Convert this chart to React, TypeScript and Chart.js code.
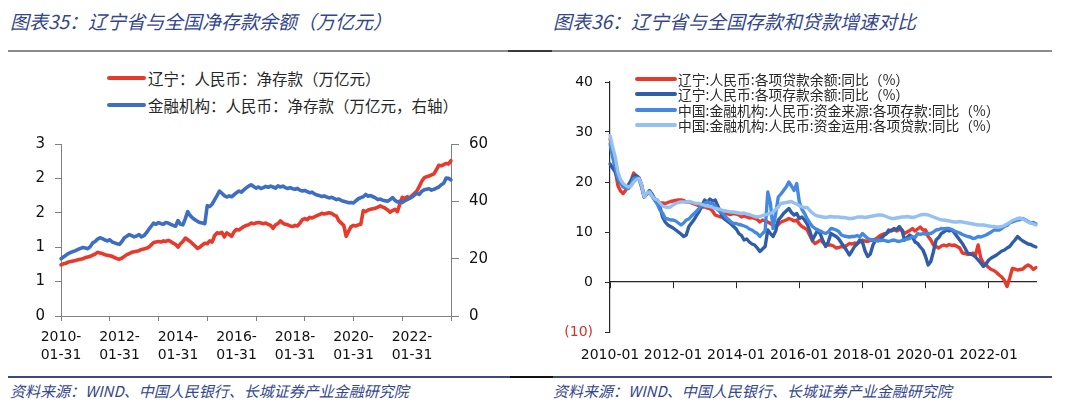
import React, { useEffect, useRef } from 'react';
import { Chart, registerables } from 'chart.js';

Chart.register(...registerables);

// ---------- Left chart data (monthly, 2010-01 .. 2023-05) ----------
const leftTickLabels = ['2010-01-31', '2012-01-31', '2014-01-31', '2016-01-31', '2018-01-31', '2020-01-31', '2022-01-31'];

// 辽宁：人民币：净存款（万亿元）
const lnNetDeposit = [
  0.89, 0.91, 0.92, 0.94, 0.95, 0.96, 0.97, 0.98, 0.99, 1.00, 1.02, 1.03,
  1.04, 1.06, 1.08, 1.11, 1.10, 1.09, 1.07, 1.06, 1.05, 1.04, 1.02, 1.00,
  0.99, 1.01, 1.04, 1.07, 1.09, 1.11, 1.12, 1.13, 1.14, 1.16, 1.17, 1.18,
  1.20, 1.24, 1.28, 1.29, 1.30, 1.29, 1.31, 1.30, 1.32, 1.30, 1.27, 1.25,
  1.20, 1.26, 1.30, 1.36, 1.33, 1.30, 1.26, 1.22, 1.18, 1.20, 1.24, 1.27,
  1.26, 1.31, 1.29, 1.40, 1.45, 1.44, 1.46, 1.38, 1.45, 1.42, 1.39, 1.47,
  1.51, 1.50, 1.53, 1.56, 1.58, 1.59, 1.62, 1.61, 1.62, 1.63, 1.62, 1.61,
  1.62, 1.60, 1.58, 1.53, 1.59, 1.61, 1.66, 1.62, 1.60, 1.59, 1.57, 1.56,
  1.58, 1.57, 1.62, 1.68, 1.70, 1.68, 1.72, 1.71, 1.73, 1.75, 1.77, 1.79,
  1.78, 1.79, 1.80, 1.79, 1.76, 1.74, 1.66, 1.62, 1.58, 1.39, 1.48, 1.56,
  1.58, 1.57, 1.59, 1.60, 1.84, 1.82, 1.85, 1.86, 1.87, 1.88, 1.90, 1.92,
  1.90, 1.88, 1.85, 1.81, 1.84, 1.86, 1.82, 1.95, 2.07, 2.05, 2.08, 2.06,
  2.10, 2.14, 2.18, 2.26, 2.35, 2.41, 2.43, 2.44, 2.46, 2.48, 2.55, 2.63,
  2.62, 2.64, 2.66, 2.65, 2.71,
];

// 金融机构：人民币：净存款（万亿元，右轴）
const cnNetDeposit = [
  20.0, 20.6, 21.2, 21.8, 22.2, 22.5, 22.8, 23.2, 23.6, 23.9, 23.7, 23.5,
  24.2, 25.5, 26.0, 26.8, 27.3, 27.0, 26.5, 26.2, 26.6, 25.8, 25.5, 25.2,
  25.0, 26.0, 27.3, 27.8, 28.4, 28.0, 27.6, 27.9, 28.4, 27.6, 28.0, 29.0,
  30.2, 31.3, 32.4, 32.0, 32.6, 32.2, 32.0, 32.6, 32.4, 32.0, 31.6, 31.3,
  33.3, 32.0, 31.8, 34.0, 36.4, 35.0, 34.2, 33.6, 33.0, 32.6, 32.4, 32.2,
  38.5, 38.2, 39.0, 40.5, 42.0, 43.6, 42.8, 42.0, 41.5, 41.9, 41.6, 42.3,
  43.0, 43.6, 43.2, 44.0, 44.7, 45.3, 45.8, 45.2, 44.6, 45.0, 44.5, 44.8,
  45.2, 44.9, 45.3, 45.0, 44.6, 45.4, 45.0, 45.3, 44.8, 44.5, 44.8, 44.4,
  44.2, 44.5, 43.9, 43.6, 43.8, 43.4, 43.0, 43.2, 42.6, 42.2, 42.0, 41.7,
  41.9, 41.5, 41.2, 41.4, 41.0, 40.6, 40.8, 40.3, 40.0, 39.8, 39.5, 39.6,
  39.4, 40.2, 40.9, 41.3, 41.6, 42.4, 41.8, 42.0, 41.6, 41.2, 40.6, 40.8,
  40.4, 40.2, 40.0, 40.6, 41.3, 40.4, 39.8, 40.0, 39.6, 40.2, 40.6, 41.0,
  41.5, 42.2, 42.8, 42.4, 43.5, 44.0, 44.2, 44.4, 43.9, 44.2, 44.6, 45.0,
  45.8, 46.3, 48.1, 48.0, 47.5,
];

// ---------- Right chart data (monthly, 2010-01 .. 2023-07) ----------
const rightTickLabels = ['2010-01', '2012-01', '2014-01', '2016-01', '2018-01', '2020-01', '2022-01'];

// 辽宁:人民币:各项贷款余额:同比（%）
const lnLoanYoY = [
  28.6, 26.0, 22.3, 19.3, 18.2, 17.7, 18.4, 19.3, 20.3, 21.8, 21.2, 20.7,
  19.0, 17.0, 17.6, 18.0, 17.2, 16.4, 16.0, 15.8, 15.8, 15.7, 15.9, 16.1,
  16.2, 16.3, 16.4, 16.4, 16.3, 16.0, 16.0, 15.8, 15.6, 15.4, 15.2, 15.0,
  15.0, 14.8, 14.7, 14.2, 13.4, 13.2, 13.0, 13.4, 13.7, 13.6, 13.5, 13.7,
  13.6, 13.4, 13.0, 13.2, 13.0, 12.8, 12.9, 12.7, 12.5, 12.0, 12.4, 12.2,
  12.0, 11.7, 11.4, 11.2, 11.5, 12.0, 12.2, 12.4, 12.7, 12.5, 12.2, 12.4,
  11.6, 11.1, 10.8, 10.4, 9.3, 8.2, 7.7, 8.0, 8.4, 7.9, 7.4, 7.4,
  7.4, 7.2, 6.8, 6.9, 7.1, 7.0, 7.3, 7.7, 7.6, 7.8, 7.7, 8.0,
  8.4, 8.2, 8.1, 8.3, 8.4, 8.6, 9.0, 9.4, 9.6, 9.7, 10.0, 10.4,
  10.4, 10.2, 10.5, 10.4, 9.7, 10.0, 10.3, 10.7, 10.2, 10.6, 11.0, 10.4,
  10.4, 9.1, 8.4, 7.4, 7.1, 6.8, 7.2, 7.4, 7.2, 7.5, 7.3, 7.4,
  7.1, 6.8, 5.8, 5.7, 5.5, 5.6, 5.8, 5.4, 7.4, 4.8, 3.8, 3.4,
  2.9, 2.5, 2.3, 1.9, 1.4, 1.0, 0.3, -0.9, 0.8, 2.7, 2.6, 2.4,
  2.5, 2.6, 3.1, 3.4, 3.1, 2.5, 2.9,
];

// 辽宁:人民币:各项存款余额:同比（%）
const lnDepositYoY = [
  23.6, 22.8, 22.0, 20.5, 19.8, 19.3, 19.2, 19.4, 20.2, 21.2, 21.3, 20.9,
  19.5, 17.0, 17.6, 18.3, 17.6, 16.6, 16.4, 15.0, 13.0, 12.0, 11.4, 11.1,
  10.8, 10.4, 10.0, 9.6, 9.1, 9.4, 11.1, 11.8, 12.5, 13.4, 14.2, 15.3,
  16.4, 16.0, 16.6, 16.2, 16.4, 15.2, 14.0, 12.8, 12.4, 12.0, 11.6, 11.1,
  10.6, 9.7, 9.3, 8.4, 8.6, 8.0, 7.6, 7.4, 6.8, 6.1, 6.6, 7.1,
  10.4, 9.7, 9.1, 10.2, 12.4, 13.0, 13.7, 14.2, 14.7, 13.9, 13.4, 13.7,
  12.7, 13.0, 12.4, 11.6, 10.2, 8.4, 9.4, 10.4, 9.6, 8.2, 7.1, 8.0,
  9.7, 9.4, 9.1, 8.6, 7.8, 7.1, 6.3, 5.4, 6.2, 7.1, 7.6, 8.4,
  8.0, 6.2, 5.1, 5.6, 7.4, 8.4, 8.2, 8.7, 9.2, 9.6, 10.4, 10.2,
  10.7, 10.5, 11.1, 10.4, 8.4, 8.9, 9.4, 9.0, 8.0, 7.7, 7.0, 6.4,
  5.1, 3.4, 4.1, 6.1, 8.4, 8.9, 9.7, 10.0, 10.4, 10.2, 10.4, 9.8,
  9.1, 8.4, 7.7, 6.8, 5.8, 5.6, 5.4, 5.0, 4.4, 3.8, 3.1, 3.6,
  4.4, 4.8, 5.1, 5.4, 5.8, 6.2, 6.4, 6.8, 7.1, 7.8, 8.4, 9.1,
  8.6, 8.2, 7.9, 7.6, 7.5, 7.2, 7.0,
];

// 中国:金融机构:人民币:资金来源:各项存款:同比（%）
const cnDepositYoY = [
  27.6, 25.0, 23.0, 20.7, 19.8, 19.0, 18.8, 18.7, 19.5, 20.7, 20.8, 20.7,
  19.3, 17.0, 17.6, 18.0, 17.2, 16.4, 15.6, 14.4, 13.8, 12.7, 12.6, 12.4,
  12.4, 12.2, 11.8, 11.4, 11.8, 12.4, 12.6, 13.2, 13.7, 14.2, 14.8, 15.4,
  15.7, 16.0, 15.7, 15.7, 15.2, 14.4, 14.0, 13.6, 13.0, 12.5, 12.0, 11.7,
  11.7, 11.5, 11.4, 11.2, 11.0, 10.6, 10.4, 10.0, 9.7, 9.1, 9.7, 10.2,
  18.0, 15.7, 10.7, 13.6, 17.0, 17.6, 18.3, 19.0, 20.0, 19.2, 18.3, 19.7,
  16.0, 14.5, 13.7, 12.6, 11.8, 11.1, 10.7, 10.4, 10.2, 9.9, 9.7, 10.0,
  10.7, 10.6, 10.4, 10.1, 9.4, 9.2, 9.1, 9.0, 9.1, 9.1, 9.3, 9.0,
  9.7, 9.2, 8.7, 8.5, 8.4, 8.3, 8.4, 8.3, 8.4, 8.2, 8.1, 8.3,
  8.4, 8.2, 8.1, 8.3, 8.4, 8.6, 8.7, 9.1, 8.9, 9.7, 9.5, 9.7,
  9.6, 9.7, 9.7, 10.0, 10.4, 10.5, 10.7, 10.6, 10.7, 10.7, 10.5, 10.2,
  10.0, 9.8, 9.5, 9.3, 9.1, 9.0, 8.7, 8.8, 9.1, 9.0, 9.2, 9.4,
  9.7, 10.0, 10.4, 10.4, 10.4, 10.7, 11.1, 11.3, 11.8, 12.0, 12.2, 12.4,
  12.5, 12.7, 12.4, 12.1, 11.8, 11.9, 11.6,
];

// 中国:金融机构:人民币:资金运用:各项贷款:同比（%）
const cnLoanYoY = [
  29.3, 27.0, 25.0, 22.0, 20.5, 19.7, 19.3, 19.0, 19.2, 20.0, 20.5, 20.7,
  19.5, 17.0, 17.8, 18.0, 17.2, 16.6, 16.4, 15.8, 15.2, 15.0, 14.9, 15.0,
  15.4, 15.7, 15.9, 16.0, 16.0, 16.0, 16.1, 16.0, 15.8, 15.7, 15.7, 15.5,
  15.3, 15.2, 15.1, 14.9, 14.7, 14.6, 14.5, 14.3, 14.2, 14.1, 14.0, 14.0,
  13.9, 13.8, 13.7, 13.8, 13.6, 13.5, 13.3, 13.1, 13.0, 13.1, 13.3, 13.4,
  13.6, 13.7, 14.0, 14.5, 15.0, 15.7, 15.8, 15.9, 16.0, 16.1, 15.8, 15.6,
  15.3, 15.0, 14.9, 14.9, 14.3, 13.8, 13.4, 13.2, 13.1, 13.0, 12.9, 13.0,
  13.1, 13.0, 13.0, 13.0, 12.9, 12.9, 12.8, 12.7, 12.7, 12.8, 13.0, 13.0,
  13.0, 12.9, 13.0, 13.1, 13.2, 13.3, 13.4, 13.4, 13.3, 13.1, 12.9, 12.7,
  12.7, 12.8, 12.9, 13.0, 13.0, 13.1, 13.0, 12.9, 13.0, 13.2, 13.4, 13.5,
  13.5, 13.4, 13.2, 13.0, 12.8, 12.6, 12.4, 12.4, 12.3, 12.2, 12.1, 12.0,
  12.0, 12.1, 12.0, 11.9, 11.8, 11.7, 11.6, 11.5, 11.4, 11.4, 11.4, 11.3,
  11.2, 11.1, 11.1, 11.0, 11.0, 11.1, 11.3, 11.6, 11.9, 12.3, 12.5, 12.7,
  12.8, 12.6, 12.3, 12.0, 11.8, 11.6, 11.4,
];

// ---------- Text ----------
const leftTitle = '图表35：辽宁省与全国净存款余额（万亿元）';
const rightTitle = '图表36：辽宁省与全国存款和贷款增速对比';
const sourceText = '资料来源：WIND、中国人民银行、长城证券产业金融研究院';
const leftSeriesNames = ['辽宁：人民币：净存款（万亿元）', '金融机构：人民币：净存款（万亿元，右轴）'];
const rightSeriesNames = [
  '辽宁:人民币:各项贷款余额:同比（%）',
  '辽宁:人民币:各项存款余额:同比（%）',
  '中国:金融机构:人民币:资金来源:各项存款:同比（%）',
  '中国:金融机构:人民币:资金运用:各项贷款:同比（%）',
];

// ---------- Styles ----------
const RED = '#E8392B';
const LEFT_BLUE = '#3E6EC1';
const RIGHT_COLORS = [RED, '#2F5DA9', '#4588DF', '#95C0F2'];
const TITLE_COLOR = '#34468C';
const LEFT_AXIS = '#808080';
const RIGHT_AXIS = '#262626';
const CJK = '"Noto Sans CJK SC", "Noto Sans", sans-serif';
const NUM_FONT = '"DejaVu Sans", "Liberation Sans", sans-serif';

function monthLabels(n: number, withDay: boolean): string[] {
  const out: string[] = [];
  for (let i = 0; i < n; i++) {
    const y = 2010 + Math.floor(i / 12);
    const m = i % 12;
    const mm = String(m + 1).padStart(2, '0');
    if (withDay) {
      const d = new Date(Date.UTC(y, m + 1, 0)).getUTCDate();
      out.push(`${y}-${mm}-${String(d).padStart(2, '0')}`);
    } else {
      out.push(`${y}-${mm}`);
    }
  }
  return out;
}

const leftCategories = monthLabels(lnNetDeposit.length, true);
const rightCategories = monthLabels(lnLoanYoY.length, false);

export default function App() {
  const leftRef = useRef<HTMLCanvasElement | null>(null);
  const rightRef = useRef<HTMLCanvasElement | null>(null);

  useEffect(() => {
    const charts: Chart[] = [];
    if (leftRef.current) {
      charts.push(
        new Chart(leftRef.current, {
          type: 'line',
          data: {
            labels: leftCategories,
            datasets: [
              {
                label: leftSeriesNames[0],
                data: lnNetDeposit,
                yAxisID: 'y',
                borderColor: RED,
                borderWidth: 3.6,
                pointRadius: 0,
                tension: 0,
                borderJoinStyle: 'round',
                borderCapStyle: 'round',
                order: 1,
              },
              {
                label: leftSeriesNames[1],
                data: cnNetDeposit,
                yAxisID: 'y1',
                borderColor: LEFT_BLUE,
                borderWidth: 3.6,
                pointRadius: 0,
                tension: 0,
                borderJoinStyle: 'round',
                borderCapStyle: 'round',
                order: 0,
              },
            ],
          },
          options: {
            responsive: false,
            animation: false,
            layout: { padding: { top: 13, left: 0, right: 0, bottom: 0 } },
            plugins: { legend: { display: false }, tooltip: { enabled: false } },
            scales: {
              x: {
                type: 'category',
                offset: false,
                grid: {
                  drawOnChartArea: false,
                  color: 'rgba(0,0,0,0)',
                  tickColor: (ctx: any) => (ctx.index % 20 === 0 ? LEFT_AXIS : 'rgba(0,0,0,0)'),
                  tickLength: 5,
                  tickWidth: 1,
                },
                border: { display: true, color: LEFT_AXIS, width: 1 },
                ticks: {
                  autoSkip: false,
                  maxRotation: 0,
                  minRotation: 0,
                  padding: 7,
                  color: '#111',
                  font: { family: NUM_FONT, size: 14, lineHeight: 1.32 },
                  callback: (_v: any, i: number) => {
                    const lab = leftCategories[i];
                    return leftTickLabels.includes(lab) ? [lab.slice(0, 5), lab.slice(5)] : '';
                  },
                },
                afterFit: (s: any) => {
                  s.height = 59;
                },
              },
              y: {
                position: 'left',
                min: 0,
                max: 3,
                grid: { drawOnChartArea: false, color: LEFT_AXIS, tickLength: 6 },
                border: { display: true, color: LEFT_AXIS, width: 1 },
                ticks: {
                  count: 6,
                  padding: 10,
                  color: '#111',
                  font: { family: NUM_FONT, size: 15 },
                  callback: (v: any) => String(Math.round(Number(v))),
                },
                afterFit: (s: any) => {
                  s.width = 61;
                },
              },
              y1: {
                position: 'right',
                min: 0,
                max: 60,
                grid: { drawOnChartArea: false, color: LEFT_AXIS, tickLength: 8 },
                border: { display: true, color: LEFT_AXIS, width: 1 },
                ticks: {
                  stepSize: 20,
                  padding: 10,
                  color: '#111',
                  font: { family: NUM_FONT, size: 15 },
                },
                afterFit: (s: any) => {
                  s.width = 79;
                },
              },
            },
          },
        } as any)
      );
    }
    if (rightRef.current) {
      const series = [lnLoanYoY, lnDepositYoY, cnDepositYoY, cnLoanYoY];
      charts.push(
        new Chart(rightRef.current, {
          type: 'line',
          data: {
            labels: rightCategories,
            datasets: series.map((d, i) => ({
              label: rightSeriesNames[i],
              data: d,
              xAxisID: 'x',
              yAxisID: 'y',
              borderColor: RIGHT_COLORS[i],
              borderWidth: 3.4,
              pointRadius: 0,
              tension: 0,
              borderJoinStyle: 'round',
              borderCapStyle: 'round',
              order: series.length - 1 - i,
            })),
          },
          options: {
            responsive: false,
            animation: false,
            layout: { padding: { top: 22, left: 0, right: 44, bottom: 0 } },
            plugins: { legend: { display: false }, tooltip: { enabled: false } },
            scales: {
              x: {
                type: 'category',
                position: 'bottom',
                offset: false,
                grid: { display: false, drawTicks: false },
                border: { display: false },
                ticks: {
                  autoSkip: false,
                  maxRotation: 0,
                  minRotation: 0,
                  padding: 15,
                  color: '#111',
                  font: { family: NUM_FONT, size: 14 },
                  callback: (_v: any, i: number) => {
                    const lab = rightCategories[i];
                    return rightTickLabels.includes(lab) ? lab : '';
                  },
                },
                afterFit: (s: any) => {
                  s.height = 43;
                },
              },
              x0: {
                type: 'category',
                axis: 'x',
                position: { y: 0 },
                offset: false,
                grid: {
                  drawOnChartArea: false,
                  color: 'rgba(0,0,0,0)',
                  tickColor: (ctx: any) => (ctx.index % 24 === 0 ? RIGHT_AXIS : 'rgba(0,0,0,0)'),
                  tickLength: 6,
                },
                border: { display: true, color: RIGHT_AXIS, width: 1.2 },
                ticks: { display: false, autoSkip: false },
              },
              y: {
                position: 'left',
                min: -10,
                max: 40,
                grid: { drawOnChartArea: false, color: RIGHT_AXIS, tickLength: 5 },
                border: { display: true, color: RIGHT_AXIS, width: 1.2 },
                ticks: {
                  stepSize: 10,
                  padding: 12,
                  color: (ctx: any) => (ctx.tick && ctx.tick.value < 0 ? '#D0342C' : '#111'),
                  font: { family: NUM_FONT, size: 14 },
                  callback: (v: any) => (Number(v) < 0 ? `(${Math.abs(Number(v))})` : String(v)),
                },
                afterFit: (s: any) => {
                  s.width = 70;
                },
              },
            },
          },
        } as any)
      );
    }
    return () => charts.forEach((c) => c.destroy());
  }, []);

  const titleStyle = (left: number): React.CSSProperties => ({
    position: 'absolute',
    left,
    top: 8,
    fontFamily: CJK,
    fontStyle: 'italic',
    fontSize: 19,
    lineHeight: '26px',
    color: TITLE_COLOR,
    whiteSpace: 'nowrap',
  });
  const sourceStyle = (left: number): React.CSSProperties => ({
    position: 'absolute',
    left,
    top: 381,
    fontFamily: CJK,
    fontStyle: 'italic',
    fontSize: 15,
    lineHeight: '20px',
    color: TITLE_COLOR,
    whiteSpace: 'nowrap',
  });
  const hline = (left: number, width: number, top: number, h: number, color: string): React.CSSProperties => ({
    position: 'absolute',
    left,
    width,
    top,
    height: h,
    background: color,
  });

  return (
    <div
      style={{
        position: 'fixed',
        left: 0,
        top: 0,
        width: 1080,
        height: 408,
        background: '#fff',
        overflow: 'hidden',
      }}
    >
      <div style={titleStyle(10)}>{leftTitle}</div>
      <div style={titleStyle(553)}>{rightTitle}</div>

      <div style={hline(8, 500, 50, 2, '#8C8C8C')} />
      <div style={hline(508, 44, 50, 2, '#3A3A3A')} />
      <div style={hline(552, 500, 50, 2, '#8C8C8C')} />

      <canvas ref={leftRef} width={530} height={250} style={{ position: 'absolute', left: 0, top: 125 }} />
      <canvas ref={rightRef} width={540} height={315} style={{ position: 'absolute', left: 540, top: 60 }} />

      {/* Left legend */}
      {leftSeriesNames.map((name, i) => (
        <div key={name} style={{ position: 'absolute', left: 107, top: 68 + i * 27, height: 20, whiteSpace: 'nowrap' }}>
          <div
            style={{
              position: 'absolute',
              left: 0,
              top: 8,
              width: 39,
              height: 4,
              borderRadius: 2,
              background: i === 0 ? RED : LEFT_BLUE,
            }}
          />
          <div
            style={{
              position: 'absolute',
              left: 41,
              top: 0,
              fontFamily: CJK,
              fontSize: 15.5,
              lineHeight: '20px',
              color: '#262626',
            }}
          >
            {name}
          </div>
        </div>
      ))}

      {/* Right legend */}
      {rightSeriesNames.map((name, i) => (
        <div key={name} style={{ position: 'absolute', left: 635, top: 70.5 + i * 15.6, height: 16, whiteSpace: 'nowrap' }}>
          <div
            style={{
              position: 'absolute',
              left: 0,
              top: 6,
              width: 42,
              height: 4,
              borderRadius: 2,
              background: RIGHT_COLORS[i],
            }}
          />
          <div
            style={{
              position: 'absolute',
              left: 43,
              top: 0,
              fontFamily: CJK,
              fontSize: 13.8,
              lineHeight: '16px',
              color: '#262626',
            }}
          >
            {name}
          </div>
        </div>
      ))}

      <div style={hline(8, 502, 376, 1.5, '#3D4B7A')} />
      <div style={hline(510, 43, 376, 1.5, '#111')} />
      <div style={hline(553, 499, 376, 1.5, '#3D4B7A')} />

      <div style={sourceStyle(10)}>{sourceText}</div>
      <div style={sourceStyle(553)}>{sourceText}</div>
    </div>
  );
}
